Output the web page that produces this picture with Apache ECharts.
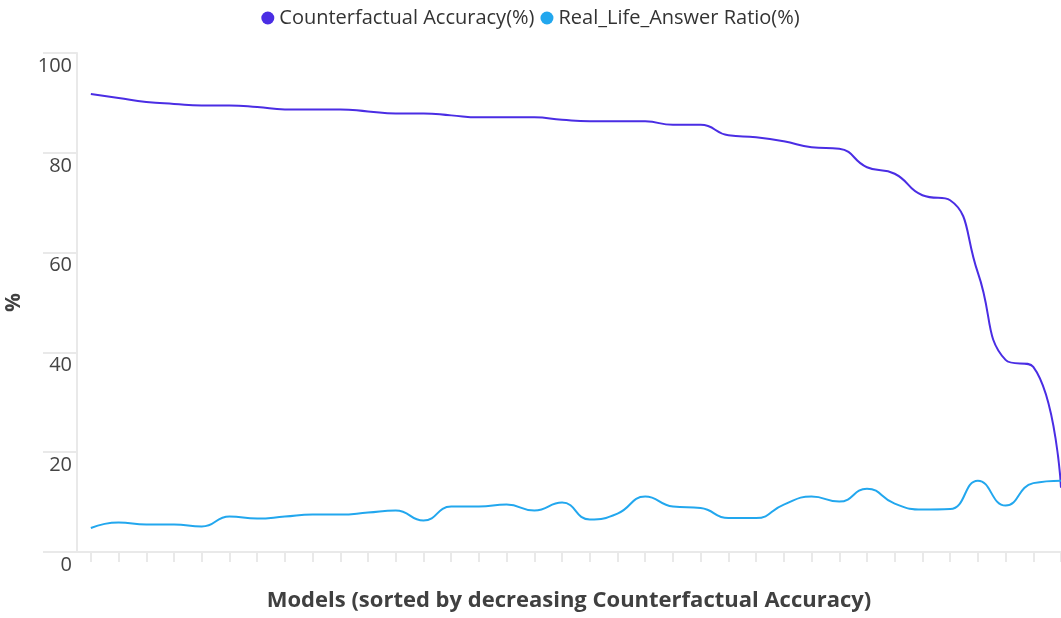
<!DOCTYPE html>
<html>
<head>
<meta charset="utf-8">
<script src="https://cdn.jsdelivr.net/npm/echarts@6/dist/echarts.min.js"></script>
<style>
html, body { margin: 0; padding: 0; background: #fff; }
#chart { width: 1061px; height: 618px; }
</style>
</head>
<body>
<div id="chart"></div>
<script>
// models, sorted by decreasing counterfactual accuracy (36 of them)
var modelIdx = [];
for (var m = 0; m < 36; m++) modelIdx.push(m);

var counterfactualAcc = [91.8, 91.0, 90.2, 89.8, 89.5, 89.5, 89.2, 88.7, 88.7, 88.7,
	88.3, 87.9, 87.9, 87.5, 87.1, 87.1, 87.1, 86.6, 86.3, 86.3,
	86.3, 85.6, 85.6, 83.5, 83.1, 82.3, 81.1, 80.8, 77.1, 75.8,
	71.5, 70.5, 56.0, 38.5, 37.1, 12.9];

var realLifeRatio = [4.8, 5.9, 5.5, 5.5, 5.1, 7.1, 6.7, 7.1, 7.5, 7.5,
	7.9, 8.3, 6.3, 9.1, 9.1, 9.5, 8.3, 9.9, 6.5, 7.7,
	11.1, 9.1, 8.8, 6.8, 6.8, 9.5, 11.1, 10.1, 12.7, 9.7,
	8.5, 8.6, 14.3, 9.3, 13.8, 14.3];

var yTicks = [0, 20, 40, 60, 80, 100];

var toPairs = function(vals) {
	var out = [];
	for (var i = 0; i < vals.length; i++) {
		out.push([modelIdx[i], vals[i]]);
	}
	return out;
};

var fontName = 'Open Sans';
var axisGray = '#e9e9e9';

var myChart = echarts.init(document.getElementById('chart'));
var option = {
	animation: false,
	textStyle: { fontFamily: fontName },
	legend: {
		top: 3,
		left: 'center',
		icon: 'circle',
		itemWidth: 13,
		itemHeight: 13,
		itemGap: 6,
		textStyle: { fontSize: 20, color: '#333', fontFamily: fontName },
		data: ['Counterfactual Accuracy(%)', 'Real_Life_Answer Ratio(%)']
	},
	grid: { left: 77, right: 0, top: 53, bottom: 66, outerBoundsMode: 'none', containLabel: false },
	xAxis: {
		type: 'value',
		min: -0.5,
		max: 35,
		name: 'Models (sorted by decreasing Counterfactual Accuracy)',
		nameLocation: 'middle',
		nameGap: 38,
		nameTextStyle: { fontSize: 22, fontWeight: 'bold', color: '#404040', fontFamily: fontName },
		axisLine: { show: true, onZero: false, lineStyle: { color: axisGray, width: 2 } },
		axisTick: { show: true, length: 10, lineStyle: { color: axisGray, width: 2 }, customValues: modelIdx },
		axisLabel: { show: false },
		splitLine: { show: false }
	},
	yAxis: {
		type: 'value',
		min: 0,
		max: 100,
		interval: 20,
		name: '%',
		nameLocation: 'middle',
		nameGap: 52,
		nameTextStyle: { fontSize: 21, fontWeight: 'bold', color: '#404040', fontFamily: fontName },
		axisLine: { show: true, onZero: false, lineStyle: { color: axisGray, width: 2 } },
		axisTick: { show: true, length: 34, lineStyle: { color: axisGray, width: 2 } },
		axisLabel: {
			margin: 5,
			fontSize: 20,
			color: '#444',
			verticalAlign: 'top',
			padding: [3, 0, 0, 0],
			customValues: yTicks
		},
		splitLine: { show: false }
	},
	series: [{
		name: 'Counterfactual Accuracy(%)',
		type: 'line',
		smooth: true,
		showSymbol: false,
		color: '#4a2de4',
		lineStyle: { width: 2 },
		data: toPairs(counterfactualAcc)
	}, {
		name: 'Real_Life_Answer Ratio(%)',
		type: 'line',
		smooth: true,
		showSymbol: false,
		color: '#22a7ee',
		lineStyle: { width: 2 },
		data: toPairs(realLifeRatio)
	}]
};
myChart.setOption(option);
</script>
</body>
</html>
